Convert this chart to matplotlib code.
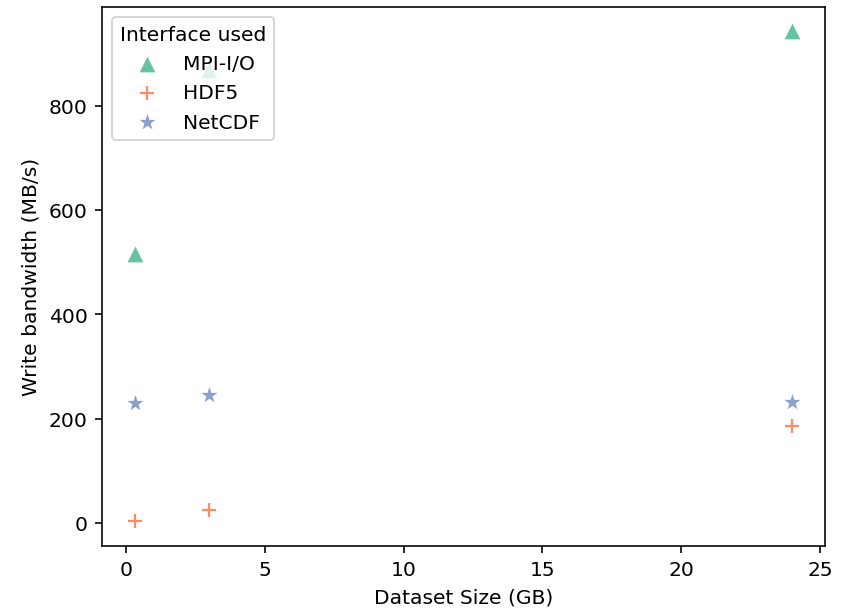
import matplotlib
matplotlib.use("Agg")
import matplotlib.pyplot as plt

sizes = [0.3, 3, 24]
mpiio = [516, 868, 942]
hdf5 = [3, 25, 186]
netcdf = [230, 246, 232]

SERIES = [
    ("MPI-I/O", mpiio, dict(marker="^", color="#66c2a5", s=60, linewidths=0)),
    ("HDF5", hdf5, dict(marker="+", color="#fc8d62", s=42, linewidths=1.1)),
    ("NetCDF", netcdf, dict(marker="*", color="#8da0cb", s=70, linewidths=0)),
]

DPI = 146
fig, ax = plt.subplots(figsize=(847 / DPI, 609 / DPI), dpi=DPI)
for name, vals, style in SERIES:
    ax.scatter(sizes, vals, label=name, **style)
ax.set_xlabel("Dataset Size (GB)")
ax.set_ylabel("Write bandwidth (MB/s)")
ax.legend(title="Interface used", loc="upper left")
fig.subplots_adjust(left=0.12, right=0.974, top=0.987, bottom=0.102)
fig.savefig("out.png", dpi=DPI)
